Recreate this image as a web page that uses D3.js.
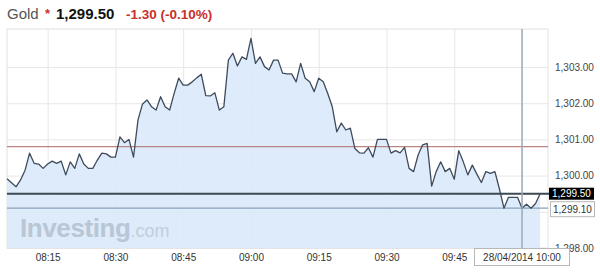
<!DOCTYPE html>
<html>
<head>
<meta charset="utf-8">
<script src="https://cdn.jsdelivr.net/npm/d3@7"></script>
<style>
  body { margin: 0; background: #fff; }
  svg { display: block; font-family: Arial, "Liberation Sans", sans-serif; }
</style>
</head>
<body>
<div id="chart"></div>
<script>
// data, one quote per minute from 08:06
var startTime = "2014-04-28 08:06";
var prices = [
  1299.91, 1299.80, 1299.69, 1299.88, 1300.15, 1300.62, 1300.34, 1300.32, 1300.20, 1300.32,
  1300.40, 1300.34, 1300.40, 1300.02, 1300.38, 1300.20, 1300.60, 1300.32, 1300.20, 1300.20,
  1300.43, 1300.62, 1300.60, 1300.51, 1300.51, 1301.07, 1300.91, 1301.00, 1300.51, 1301.54,
  1301.98, 1302.09, 1301.90, 1301.81, 1302.18, 1301.90, 1301.81, 1302.27, 1302.69, 1302.50,
  1302.50, 1302.59, 1302.70, 1302.80, 1302.21, 1302.20, 1302.29, 1301.81, 1301.90, 1303.19,
  1303.38, 1303.03, 1303.28, 1303.21, 1303.79, 1303.10, 1303.28, 1303.01, 1302.92, 1303.19,
  1303.19, 1302.83, 1302.81, 1302.81, 1302.59, 1303.10, 1302.69, 1302.59, 1302.32, 1302.69,
  1302.59, 1302.27, 1301.90, 1301.21, 1301.45, 1301.26, 1301.31, 1300.75, 1300.63, 1300.62,
  1300.77, 1300.51, 1301.00, 1301.00, 1301.00, 1300.62, 1300.69, 1300.63, 1300.78, 1300.20,
  1300.11, 1300.57, 1300.85, 1300.89, 1299.71, 1300.11, 1300.38, 1300.11, 1300.20, 1299.90,
  1300.69, 1300.38, 1300.02, 1300.29, 1300.04, 1299.81, 1300.11, 1300.06, 1300.11, 1299.63,
  1299.10, 1299.40, 1299.40, 1299.40, 1299.10, 1299.21, 1299.10, 1299.23, 1299.50
];
var xTickLabels = ["08:15", "08:30", "08:45", "09:00", "09:15", "09:30", "09:45", "10:00"];
var yGrid = [1298, 1299, 1300, 1301, 1302, 1303];
var yLabels = [1298, 1300, 1301, 1302, 1303]; // 1,299.00 sits under the low-price box
var prevClose = 1300.80;
var lastPrice = 1299.50;
var lowPrice = 1299.10;
var changeText = "-1.30 (-0.10%)";
var cursorTime = "10:00";
var cursorLabel = "28/04/2014 10:00";

var W = 600, H = 274;
var plot = {x0: 7, x1: 548, y0: 29, y1: 248};
var fmt = d3.format(",.2f");

var parse = d3.timeParse("%Y-%m-%d %H:%M");
var t0 = parse(startTime);
var data = prices.map(function(p, i) { return { t: d3.timeMinute.offset(t0, i), v: p }; });
var atTime = function(s) { return parse("2014-04-28 " + s); };

var x = d3.scaleTime()
  .domain([t0, d3.timeSecond.offset(t0, 7185)])
  .range([plot.x0, plot.x1]);
var y = d3.scaleLinear()
  .domain([1298, 1304.05])
  .range([plot.y1, plot.y0]);

var svg = d3.select("#chart").append("svg")
  .attr("width", W).attr("height", H);

// header
svg.append("text").attr("x", 7).attr("y", 19)
  .attr("fill", "#555").attr("font-size", 15).text("Gold");
svg.append("text").attr("x", 45).attr("y", 18)
  .attr("fill", "#d0312d").attr("font-size", 13).attr("font-weight", "bold").text("*");
svg.append("text").attr("x", 56).attr("y", 19)
  .attr("fill", "#111").attr("font-size", 15).attr("font-weight", "bold").text(fmt(lastPrice));
svg.append("text").attr("x", 126).attr("y", 19)
  .attr("fill", "#c8302c").attr("font-size", 13.5).attr("font-weight", "bold").text(changeText);

// grid
svg.append("g")
  .attr("transform", `translate(0,${plot.y0})`)
  .call(d3.axisBottom(x).tickValues(xTickLabels.map(atTime)).tickSize(plot.y1 - plot.y0).tickFormat(""))
  .call(g => g.select(".domain").remove())
  .selectAll("line").attr("stroke", "#e7e7e7");
svg.append("g")
  .attr("transform", `translate(${plot.x0},0)`)
  .call(d3.axisRight(y).tickValues(yGrid).tickSize(plot.x1 - plot.x0).tickFormat(""))
  .call(g => g.select(".domain").remove())
  .selectAll("line").attr("stroke", "#e7e7e7");
svg.append("rect")
  .attr("x", plot.x0).attr("y", plot.y0).attr("width", plot.x1 - plot.x0).attr("height", plot.y1 - plot.y0)
  .attr("fill", "none").attr("stroke", "#e2e2e2");

// area
svg.append("path")
  .datum(data)
  .attr("fill", "#d9e9fa")
  .attr("fill-opacity", 0.9)
  .attr("d", d3.area().x(d => x(d.t)).y0(plot.y1).y1(d => y(d.v)));

// watermark
var wm = svg.append("text").attr("x", 20).attr("y", 237);
wm.append("tspan").attr("font-size", 26).attr("font-weight", "bold").attr("fill", "#b8c6d6")
  .attr("letter-spacing", -0.4).text("Investing");
wm.append("tspan").attr("font-size", 18).attr("fill", "#c0cede").text(".com");

// reference lines
svg.append("line")
  .attr("x1", plot.x0).attr("x2", plot.x1).attr("y1", y(prevClose)).attr("y2", y(prevClose))
  .attr("stroke", "#b98585").attr("stroke-width", 1.2);
svg.append("line")
  .attr("x1", plot.x0).attr("x2", plot.x1).attr("y1", y(lowPrice)).attr("y2", y(lowPrice))
  .attr("stroke", "#8aa2ba").attr("stroke-width", 1.2);
svg.append("line")
  .attr("x1", plot.x0).attr("x2", plot.x1 + 2).attr("y1", y(lastPrice)).attr("y2", y(lastPrice))
  .attr("stroke", "#3c4a52").attr("stroke-width", 2);

// price line
svg.append("path")
  .datum(data)
  .attr("fill", "none")
  .attr("stroke", "#3e4b5d")
  .attr("stroke-width", 1.3)
  .attr("stroke-linejoin", "round")
  .attr("d", d3.line().x(d => x(d.t)).y(d => y(d.v)));

// crosshair
var cx = x(atTime(cursorTime));
svg.append("line")
  .attr("x1", cx).attr("x2", cx).attr("y1", plot.y0).attr("y2", plot.y1)
  .attr("stroke", "#9daabb").attr("stroke-width", 1.5);

// axis labels
svg.append("g")
  .attr("transform", `translate(0,${plot.y1})`)
  .call(d3.axisBottom(x).tickValues(xTickLabels.slice(0, -1).map(atTime))
    .tickFormat(d3.timeFormat("%H:%M")).tickSize(0).tickPadding(6))
  .call(g => g.select(".domain").remove())
  .selectAll("text").attr("font-size", 10).attr("fill", "#333").attr("font-family", null);

svg.append("g")
  .attr("transform", `translate(${plot.x1},0)`)
  .call(d3.axisRight(y).tickValues(yLabels).tickFormat(fmt).tickSize(0).tickPadding(7))
  .call(g => g.select(".domain").remove())
  .selectAll("text").attr("font-size", 10).attr("fill", "#444").attr("font-family", null);

// last price box
svg.append("rect")
  .attr("x", plot.x1 + 1).attr("y", y(lastPrice) - 6).attr("width", 45).attr("height", 12)
  .attr("fill", "#000");
svg.append("text")
  .attr("x", plot.x1 + 4).attr("y", y(lastPrice) + 3.5)
  .attr("font-size", 10).attr("fill", "#fff")
  .text(fmt(lastPrice));

// low box
svg.append("rect")
  .attr("x", plot.x1 + 2.5).attr("y", y(lowPrice) - 6.5).attr("width", 44).attr("height", 15)
  .attr("fill", "#fff").attr("stroke", "#b8b8b8");
svg.append("text")
  .attr("x", plot.x1 + 5).attr("y", y(lowPrice) + 4.5)
  .attr("font-size", 10).attr("fill", "#333")
  .text(fmt(lowPrice));

// date box
svg.append("rect")
  .attr("x", cx - 47.5).attr("y", plot.y1 + 0.5).attr("width", 95).attr("height", 17)
  .attr("fill", "#fff").attr("stroke", "#b8b8b8");
svg.append("text")
  .attr("x", cx).attr("y", plot.y1 + 12.5).attr("text-anchor", "middle")
  .attr("font-size", 10).attr("fill", "#333")
  .text(cursorLabel);
</script>
</body>
</html>
